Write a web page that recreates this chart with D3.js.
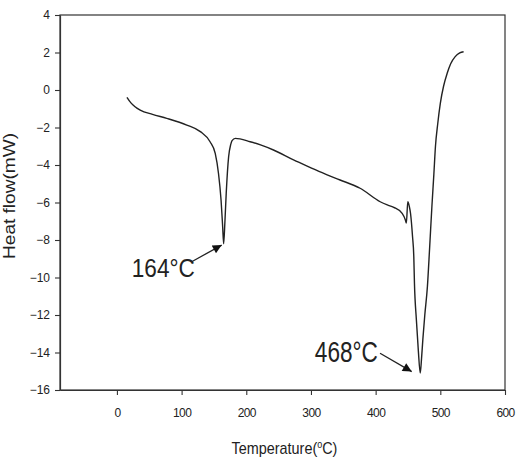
<!DOCTYPE html>
<html>
<head>
<meta charset="utf-8">
<script src="https://cdn.jsdelivr.net/npm/d3@7"></script>
<style>
  body { margin: 0; background: #fff; }
  svg { display: block; font-family: "Liberation Sans", Arial, sans-serif; }
</style>
</head>
<body>
<div id="chart"></div>
<script>
// DSC curve
let temperature = [15.5, 22, 28, 36, 55, 77, 108, 129, 144, 152, 157, 161, 163.5, 165, 167, 169, 172.7, 176, 178, 183,
                   206, 222, 242, 273, 300, 325, 345, 376, 407, 418, 428, 441, 446, 447.5, 449.7, 452, 454, 457, 459, 460,
                   463, 466, 469, 471, 473, 476, 480, 483.5, 487, 490, 492.5, 496, 500, 505, 510.6, 516, 523, 530, 536];
let heatFlow = [-0.39, -0.7, -0.89, -1.07, -1.3, -1.51, -1.87, -2.22, -2.76, -3.38, -4.44, -5.87, -7.3, -8.2, -7.0, -5.5, -3.56, -2.9, -2.7, -2.58,
                -2.76, -2.93, -3.2, -3.73, -4.15, -4.53, -4.8, -5.24, -5.96, -6.13, -6.26, -6.58, -6.93, -7.1, -5.96, -6.2, -6.6, -7.8, -8.9, -10.3,
                -12.27, -13.9, -15.1, -14.3, -13.3, -12.0, -10.5, -8.4, -6.2, -4.5, -3.0, -1.8, -0.71, 0.2, 0.89, 1.4, 1.78, 1.98, 2.04];

let xTicks = [0, 100, 200, 300, 400, 500, 600];
let yTicks = [4, 2, 0, -2, -4, -6, -8, -10, -12, -14, -16];

// peak labels: text, text anchor (data units), arrow start, arrow tip
let peakLabels = ["164\u00B0C", "468\u00B0C"];
let peakText = [[23, -9.96], [306, -14.52]];
let peakFrom = [[115.6, -9.16], [406.8, -14.04]];
let peakTo = [[162, -8.27], [455.8, -15.02]];

let larg = 516, alt = 459;
let m = {top: 15, right: 11, bottom: 69, left: 60};
let w = larg - m.left - m.right;
let h = alt - m.top - m.bottom;

let svg = d3.select("#chart").append("svg")
    .attr("width", larg)
    .attr("height", alt);

let g = svg.append("g").attr("transform", `translate(${m.left},${m.top})`);

let x = d3.scaleLinear().domain([-88, 600]).range([0, w]);
let y = d3.scaleLinear().domain([-16, 4]).range([h, 0]);

// frame
g.append("rect")
    .attr("width", w).attr("height", h)
    .attr("fill", "none").attr("stroke", "#333").attr("stroke-width", 1.2);

let xAxis = g.append("g")
    .attr("transform", `translate(0,${h})`)
    .call(d3.axisBottom(x).tickValues(xTicks).tickSize(5).tickPadding(13).tickSizeOuter(0));

let yAxis = g.append("g")
    .call(d3.axisLeft(y).tickValues(yTicks).tickSize(5).tickPadding(5).tickSizeOuter(0));

[xAxis, yAxis].forEach(a => {
  a.select(".domain").attr("stroke", "#333").attr("stroke-width", 1.2);
  a.selectAll(".tick line").attr("stroke", "#333").attr("stroke-width", 1.1);
  a.selectAll(".tick text")
      .attr("fill", "#222")
      .style("font-family", "'Liberation Sans', Arial, sans-serif")
      .style("font-size", "12px");
});
xAxis.selectAll(".tick text").style("letter-spacing", "-0.6px");

// curve
let pts = temperature.map((t, i) => [t, heatFlow[i]]);
let line = d3.line().x(d => x(d[0])).y(d => y(d[1])).curve(d3.curveMonotoneX);

g.append("path")
    .datum(pts)
    .attr("d", line)
    .attr("fill", "none")
    .attr("stroke", "#222")
    .attr("stroke-width", 1.4)
    .attr("stroke-linejoin", "round");

// arrowheads
svg.append("defs").append("marker")
    .attr("id", "head")
    .attr("viewBox", "0 0 10 10")
    .attr("refX", 10).attr("refY", 5)
    .attr("markerWidth", 11).attr("markerHeight", 9)
    .attr("markerUnits", "userSpaceOnUse")
    .attr("orient", "auto")
  .append("path")
    .attr("d", "M0,0L10,5L0,10z")
    .attr("fill", "#111");

peakLabels.forEach((lab, i) => {
  g.append("line")
      .attr("x1", x(peakFrom[i][0])).attr("y1", y(peakFrom[i][1]))
      .attr("x2", x(peakTo[i][0])).attr("y2", y(peakTo[i][1]))
      .attr("stroke", "#222").attr("stroke-width", 1.3)
      .attr("marker-end", "url(#head)");
  g.append("text")
      .attr("x", x(peakText[i][0]))
      .attr("y", y(peakText[i][1]))
      .attr("fill", "#222")
      .style("font-size", i == 0 ? "26px" : "29px")
      .attr("textLength", 63)
      .attr("lengthAdjust", "spacingAndGlyphs")
      .text(lab);
});

// axis titles
let xt = svg.append("text")
    .attr("transform", `translate(${m.left + w / 2 + 2},454) scale(0.9,1)`)
    .attr("text-anchor", "middle")
    .attr("fill", "#222")
    .style("font-size", "16px");
xt.append("tspan").text("Temperature(");
xt.append("tspan").attr("dy", -6).style("font-size", "10px").text("o");
xt.append("tspan").attr("dy", 6).text("C)");

svg.append("text")
    .attr("transform", `translate(15,${196}) rotate(-90)`)
    .attr("text-anchor", "middle")
    .attr("fill", "#222")
    .style("font-size", "16px")
    .attr("textLength", 126)
    .attr("lengthAdjust", "spacingAndGlyphs")
    .text("Heat flow(mW)");
</script>
</body>
</html>
